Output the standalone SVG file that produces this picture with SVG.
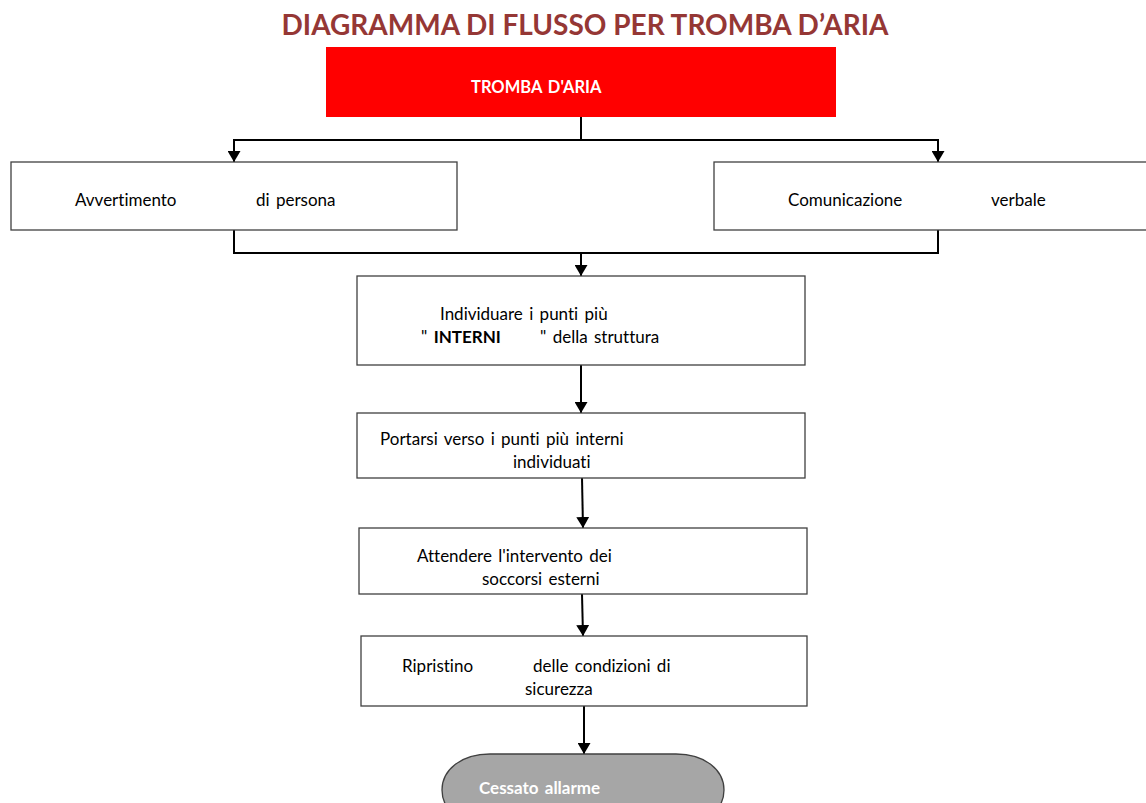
<svg xmlns="http://www.w3.org/2000/svg" width="1146" height="803" viewBox="0 0 1146 803">
<defs>
<style>
.t{font-family:Lato,"Open Sans","Liberation Sans",sans-serif;font-size:17px;fill:#000;word-spacing:2px;font-variant-ligatures:none;font-feature-settings:"liga" 0}
.b{font-weight:bold}
.w{fill:#fff}
.box{fill:#fff;stroke:#404040;stroke-width:1.3}
.ln{fill:none;stroke:#000;stroke-width:2}
</style>
<marker id="ah" markerWidth="11" markerHeight="13" refX="11" refY="6.5" orient="auto" markerUnits="userSpaceOnUse" viewBox="0 0 11 13">
<path d="M0,0 L11,6.5 L0,13 Z" fill="#000"/>
</marker>
</defs>
<rect width="1146" height="803" fill="#fff"/>
<text x="585" y="35" text-anchor="middle" style="font-family:Lato,'Open Sans','Liberation Sans',sans-serif;font-size:28px;font-weight:bold;fill:#953735">DIAGRAMMA DI FLUSSO PER TROMBA D’ARIA</text>

<g id="connectors">
<path class="ln" d="M581,117 V140 M234,140 H938"/>
<line class="ln" x1="234" y1="139" x2="234" y2="162" marker-end="url(#ah)"/>
<line class="ln" x1="938" y1="139" x2="938" y2="162" marker-end="url(#ah)"/>
<path class="ln" d="M234,230 V253 H938 V230"/>
<line class="ln" x1="581" y1="253" x2="581" y2="276" marker-end="url(#ah)"/>
<line class="ln" x1="581" y1="365" x2="581" y2="413" marker-end="url(#ah)"/>
<line class="ln" x1="582" y1="478" x2="583" y2="528" marker-end="url(#ah)"/>
<line class="ln" x1="582" y1="594" x2="583" y2="636" marker-end="url(#ah)"/>
<line class="ln" x1="584" y1="706" x2="584" y2="754" marker-end="url(#ah)"/>
</g>

<g id="n-start">
<rect x="326" y="47" width="510" height="70" fill="#ff0000"/>
<text class="t b w" x="471" y="93" style="font-size:16.5px">TROMBA D'ARIA</text>
</g>

<g id="n-avvertimento">
<rect class="box" x="11" y="162" width="446" height="68"/>
<text class="t" x="75" y="206">Avvertimento</text>
<text class="t" x="256" y="206">di persona</text>
</g>

<g id="n-comunicazione">
<rect class="box" x="714" y="162" width="440" height="68"/>
<text class="t" x="788" y="206">Comunicazione</text>
<text class="t" x="991" y="206">verbale</text>
</g>

<g id="n-individuare">
<rect class="box" x="357" y="276" width="448" height="89"/>
<text class="t" x="440" y="320">Individuare i punti più</text>
<text class="t" x="421" y="343">" <tspan class="b">INTERNI</tspan></text>
<text class="t" x="540" y="343">" della struttura</text>
</g>

<g id="n-portarsi">
<rect class="box" x="357" y="413" width="448" height="65"/>
<text class="t" x="380" y="445">Portarsi verso i punti più interni</text>
<text class="t" x="513" y="468">individuati</text>
</g>

<g id="n-attendere">
<rect class="box" x="359" y="528" width="448" height="66"/>
<text class="t" x="417" y="562">Attendere l'intervento dei</text>
<text class="t" x="482" y="585">soccorsi esterni</text>
</g>

<g id="n-ripristino">
<rect class="box" x="361" y="636" width="446" height="70"/>
<text class="t" x="402" y="672">Ripristino</text>
<text class="t" x="533" y="672">delle condizioni di</text>
<text class="t" x="525" y="695">sicurezza</text>
</g>

<g id="n-cessato">
<path d="M490,754 H676 C705,754 724,770 724,790 C724,810 705,826 676,826 H490 C461,826 442,810 442,790 C442,770 461,754 490,754 Z" fill="#a6a6a6" stroke="#404040" stroke-width="1.3"/>
<text class="t b w" x="479" y="794">Cessato allarme</text>
</g>
</svg>
